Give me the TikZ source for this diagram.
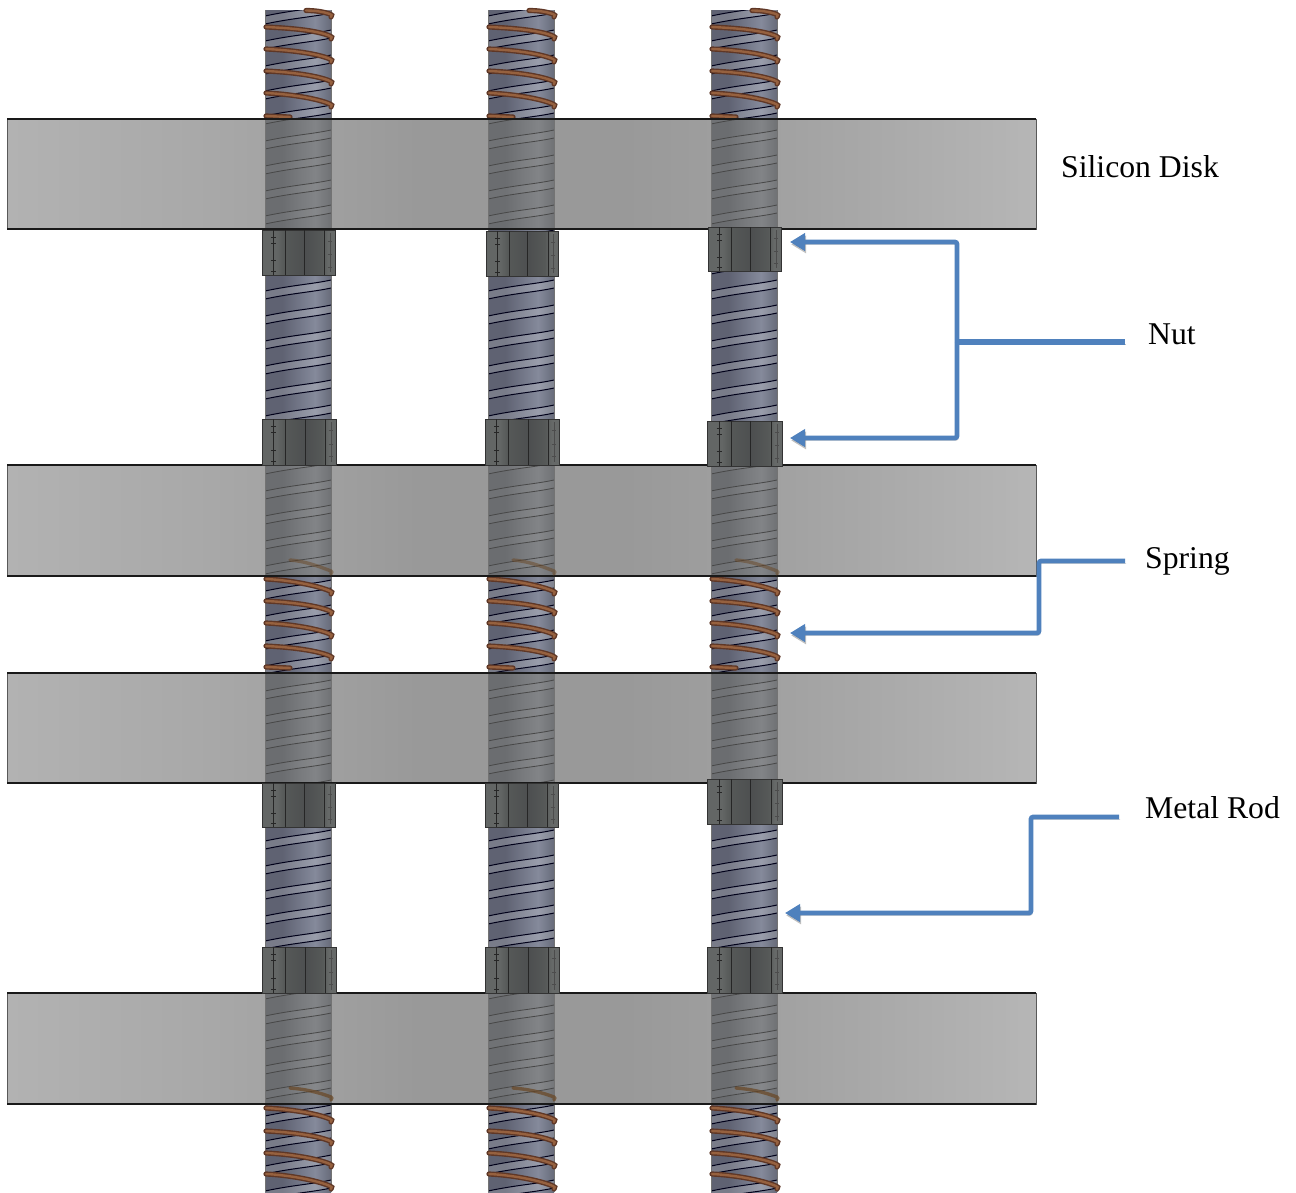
\documentclass[tikz,border=0pt]{standalone}
\usepackage{fontspec}
\setmainfont{Liberation Serif}
\usetikzlibrary{arrows.meta}
\definecolor{callout}{HTML}{4F81BD}
\definecolor{springdark}{HTML}{5F3726}
\definecolor{springlight}{HTML}{96613F}
\definecolor{diskA}{HTML}{B2B2B2}
\definecolor{diskB}{HTML}{A8A8A8}
\definecolor{diskC}{HTML}{999999}
\definecolor{diskD}{HTML}{A2A2A2}
\definecolor{diskE}{HTML}{B6B6B6}
\pgfdeclarehorizontalshading{diskshade}{100bp}{color(0bp)=(diskA); color(25bp)=(diskA); color(35bp)=(diskB); color(45bp)=(diskC); color(55bp)=(diskC); color(63bp)=(diskD); color(75bp)=(diskE); color(100bp)=(diskE)}
\definecolor{rodA}{HTML}{5F6272}
\definecolor{rodB}{HTML}{717586}
\definecolor{rodC}{HTML}{858A9B}
\definecolor{rodD}{HTML}{676B7A}
\pgfdeclarehorizontalshading{rodblue}{100bp}{color(0bp)=(rodA); color(25bp)=(rodA); color(38bp)=(rodA); color(50bp)=(rodB); color(63bp)=(rodC); color(75bp)=(rodD); color(100bp)=(rodD)}
\definecolor{inA}{HTML}{6B6D70}
\definecolor{inB}{HTML}{77797C}
\definecolor{inC}{HTML}{828487}
\definecolor{inD}{HTML}{707275}
\pgfdeclarehorizontalshading{rodgrey}{100bp}{color(0bp)=(inA); color(25bp)=(inA); color(38bp)=(inA); color(50bp)=(inB); color(63bp)=(inC); color(75bp)=(inD); color(100bp)=(inD)}
\definecolor{nutA}{HTML}{636665}
\definecolor{nutB}{HTML}{565958}
\definecolor{nutC}{HTML}{4D4F50}
\definecolor{nutD}{HTML}{666968}
\pgfdeclarehorizontalshading{nutshade}{100bp}{color(0bp)=(nutA); color(25bp)=(nutA); color(35bp)=(nutA); color(40bp)=(nutB); color(55bp)=(nutC); color(66bp)=(nutB); color(70bp)=(nutD); color(75bp)=(nutD); color(100bp)=(nutD)}
\tikzset{
 leader/.style={draw=callout,line width=4.6pt,rounded corners=2pt,
   preaction={draw=black,draw opacity=.25,transform canvas={shift={(1.2pt,-2.4pt)}}}},
 tipped/.style={-{Triangle[length=15pt,width=17pt]}},
 caption/.style={anchor=base west,inner sep=0pt,font=\fontsize{31.7}{36}\selectfont},
 disk/.style={draw=black!65,line width=.5pt},
 diskedge/.style={black!90,line width=1.6pt},
}
% x, y top, y bottom, shading, line colour, line width, band colour
\newcommand{\rodpart}[7]{%
 \begin{scope}
 \clip (#1-33,#2) rectangle (#1+33,#3);
 \shade[shading=#4] (#1-33,#2) rectangle (#1+33,#3);
 \foreach \k in {-12,...,36}{
   \pgfmathsetmacro{\ya}{291+25*\k}
   \fill[#7] (#1-33,\ya) .. controls (#1-5,\ya-6) and (#1+15,\ya-7) .. (#1+33,\ya-11)
     -- (#1+33,\ya-3) .. controls (#1+15,\ya+1) and (#1-5,\ya+2) .. (#1-33,\ya+8) -- cycle;
   \draw[#5,line width=#6] (#1-33,\ya) .. controls (#1-5,\ya-6) and (#1+15,\ya-7) .. (#1+33,\ya-11);
   \draw[#5,line width=#6] (#1-33,\ya+8) .. controls (#1-5,\ya+2) and (#1+15,\ya+1) .. (#1+33,\ya-3);
 }
 \end{scope}
 \draw[black!55,line width=.4pt] (#1-33,#2) -- (#1-33,#3) (#1+33,#2) -- (#1+33,#3);
}
% one coil, x, y at left, y at right
\newcommand{\coil}[3]{%
 \foreach \c/\w in {springdark/5.2pt,springlight/2.4pt}{
 \draw[\c,line width=\w,line cap=round] (#1-32,#2) .. controls (#1-10,#2+1) and (#1+18,#3-7) .. (#1+32,#3-1) .. controls (#1+34,#3) .. (#1+33,#3+2);
 }}
\newcommand{\stub}[2]{%
 \foreach \c/\w in {springdark/5.2pt,springlight/2.4pt}{
 \draw[\c,line width=\w,line cap=round] (#1-32,#2) -- (#1-8,#2+1);
 }}
\newcommand{\topend}[3]{%
 \foreach \c/\w in {springdark/5.2pt,springlight/2.4pt}{
 \draw[\c,line width=\w,line cap=round] (#1+8,#2) .. controls (#1+18,#2) and (#1+26,#3-3) .. (#1+32,#3-1) .. controls (#1+34,#3) .. (#1+33,#3+2);
 }}
\newcommand{\faint}[4]{%
 \draw[#4,line width=3.4pt,line cap=round] (#1-8,#2) .. controls (#1+6,#2+1) and (#1+20,#3-6) .. (#1+33,#3-1) .. controls (#1+34,#3) .. (#1+33,#3+2);
}
% x left, width, y top, y bottom
\newcommand{\nut}[4]{%
 \shade[shading=nutshade] (#1,#3) rectangle (#1+#2,#4);
 \draw[black!80,line width=.7pt] (#1,#3) rectangle (#1+#2,#4);
 \foreach \f in {.16,.32,.58,.86}{\draw[black!85,line width=.7pt] (#1+\f*#2,#3) -- (#1+\f*#2,#4);}
 \foreach \t in {.16,.3,.68,.92}{\draw[black!85,line width=.7pt] (#1+.16*#2-2.5,#3+\t*#4-\t*#3) -- (#1+.16*#2+2.5,#3+\t*#4-\t*#3);}
 \foreach \t in {.25,.55,.82}{\draw[black!70,line width=.7pt] (#1+.93*#2-2,#3+\t*#4-\t*#3) -- (#1+.93*#2+2,#3+\t*#4-\t*#3);}
 \draw[black!70,line width=.5pt] (#1+.93*#2,#3+3) -- (#1+.93*#2,#4-3);
}
\begin{document}
\begin{tikzpicture}[x=1pt,y=-1pt]
\useasboundingbox (0,0) rectangle (1296,1192);
\fill[white] (0,0) rectangle (1296,1192);
% rods in the open
\foreach \x in {298,521,744}{
 \rodpart{\x}{10}{1192}{rodblue}{black!90!blue}{1pt}{white,fill opacity=.17}
}
% springs in the open
\foreach \x in {298,521,744}{
 \topend{\x}{10.5}{15}
 \coil{\x}{27}{37}\coil{\x}{49}{60}\coil{\x}{71}{82}\coil{\x}{93}{105}\stub{\x}{116}
 \coil{\x}{579}{592}\coil{\x}{601}{612}\coil{\x}{623}{635}\coil{\x}{646}{657}\stub{\x}{667}
 \coil{\x}{1108}{1120}\coil{\x}{1131}{1142}\coil{\x}{1153}{1165}\coil{\x}{1174}{1187}
}
% silicon disks, rods seen through them
\foreach \t/\b in {119/229,465/576,673/783,993/1104}{
 \shade[shading=diskshade] (7,\t) rectangle (1036,\b);
 \draw[disk] (7,\t) rectangle (1036,\b);
 \foreach \x in {298,521,744}{
  \rodpart{\x}{\t}{\b}{rodgrey}{black!72}{.8pt}{white,fill opacity=.04}
 }
 \draw[diskedge] (7,\t) -- (1036,\t) (7,\b) -- (1036,\b);
}
\foreach \x in {298,521,744}{
 \faint{\x}{560}{572}{black!45!brown,opacity=.5}
 \faint{\x}{1088}{1098}{black!45!brown,opacity=.7}
}
% nuts
\nut{262}{73}{230}{275}\nut{486}{72}{231}{276}\nut{708}{73}{227}{271}
\nut{262}{74}{419}{465}\nut{485}{74}{419}{465}\nut{707}{75}{421}{466}
\nut{262}{73}{783}{827}\nut{485}{73}{783}{827}\nut{707}{75}{779}{824}
\nut{262}{74}{947}{993}\nut{485}{74}{947}{993}\nut{707}{75}{947}{993}
% labels
\node[caption] (silicon) at (1061,177) {Silicon Disk};
\node[caption] (nutlabel) at (1148,344) {Nut};
\node[caption] (springlabel) at (1145,568) {Spring};
\node[caption] (rodlabel) at (1145,818) {Metal Rod};
% callouts
\coordinate (nutstart) at (1125,342);
\coordinate (nutjoin) at (957,342);
\coordinate (nutup) at (790,242);
\coordinate (nutdown) at (790,438);
\coordinate (springstart) at (1125,561);
\coordinate (springtip) at (790,633);
\coordinate (rodstart) at (1119,817);
\coordinate (rodtip) at (785,913);
\draw[leader,line width=6pt,rounded corners=0pt] (nutstart) -- (nutjoin);
\draw[leader,tipped] (nutjoin) |- (nutup);
\draw[leader,tipped] (nutjoin) |- (nutdown);
\draw[leader,tipped] (springstart) -- ++(-86,0) |- (springtip);
\draw[leader,tipped] (rodstart) -- ++(-88,0) |- (rodtip);
\end{tikzpicture}
\end{document}
